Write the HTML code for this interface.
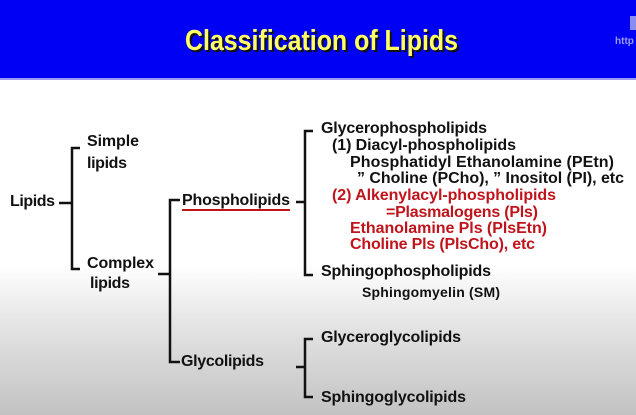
<!DOCTYPE html>
<html><head><meta charset="utf-8"><style>
html,body{margin:0;padding:0;width:636px;height:415px;overflow:hidden}
body{background:linear-gradient(to bottom,#fff 0px,#fff 265px,#e6e6e6 320px,#c2c2c2 415px)}
</style></head><body>
<svg width="636" height="415" xmlns="http://www.w3.org/2000/svg" style="position:absolute;left:0;top:0">
<rect x="0" y="0" width="636" height="78" fill="#0000f4"/>
<rect x="0" y="78" width="636" height="2" fill="#9a9af0"/>
<rect x="630" y="16" width="6" height="14" fill="#8c8cf0"/>
<text x="615" y="44" font-family="Liberation Sans" font-size="10" font-weight="bold" fill="#9a9af8">http</text>
<g font-family="Liberation Sans" font-weight="bold">
<text x="187" y="52" font-size="29" fill="#111" lengthAdjust="spacingAndGlyphs" textLength="273">Classification of Lipids</text>
<text x="185" y="50" font-size="29" fill="#ffff66" lengthAdjust="spacingAndGlyphs" textLength="273">Classification of Lipids</text>
</g>
<g stroke="#111" stroke-width="2.5" fill="none">
<path d="M80 148H72V269H80"/><path d="M59 203H72"/>
<path d="M180 200H170V362H180"/><path d="M158 274H170"/>
<path d="M313 131H305V275H313"/><path d="M296 202H305"/>
<path d="M313 339H305V397H313"/><path d="M296 367H305"/>
</g>
<line x1="182" y1="210" x2="290" y2="210" stroke="#c0141c" stroke-width="2"/>
<g font-family="Liberation Sans" font-weight="bold" font-size="16" fill="#111" lengthAdjust="spacingAndGlyphs">
<text x="10" y="206" textLength="45">Lipids</text>
<text x="87" y="146" textLength="52">Simple</text>
<text x="87" y="168" textLength="40">lipids</text>
<text x="87" y="268" textLength="67">Complex</text>
<text x="90" y="288" textLength="40">lipids</text>
<text x="182" y="205" textLength="108">Phospholipids</text>
<text x="181" y="366" textLength="83">Glycolipids</text>
<text x="321" y="133" textLength="166">Glycerophospholipids</text>
<text x="332" y="150" textLength="184">(1) Diacyl-phospholipids</text>
<text x="350" y="167" textLength="264">Phosphatidyl Ethanolamine (PEtn)</text>
<text x="357" y="183" textLength="267">” Choline (PCho), ” Inositol (PI), etc</text>
<g fill="#c0141c">
<text x="332" y="200" textLength="224">(2) Alkenylacyl-phospholipids</text>
<text x="386" y="217" textLength="152">=Plasmalogens (Pls)</text>
<text x="350" y="233" textLength="197">Ethanolamine Pls (PlsEtn)</text>
<text x="350" y="249" textLength="185">Choline Pls (PlsCho), etc</text>
</g>
<text x="321" y="276" textLength="170">Sphingophospholipids</text>
<text x="362" y="297" font-size="14" textLength="138">Sphingomyelin (SM)</text>
<text x="321" y="342" textLength="140">Glyceroglycolipids</text>
<text x="321" y="402" textLength="145">Sphingoglycolipids</text>
</g>
</svg>
</body></html>
